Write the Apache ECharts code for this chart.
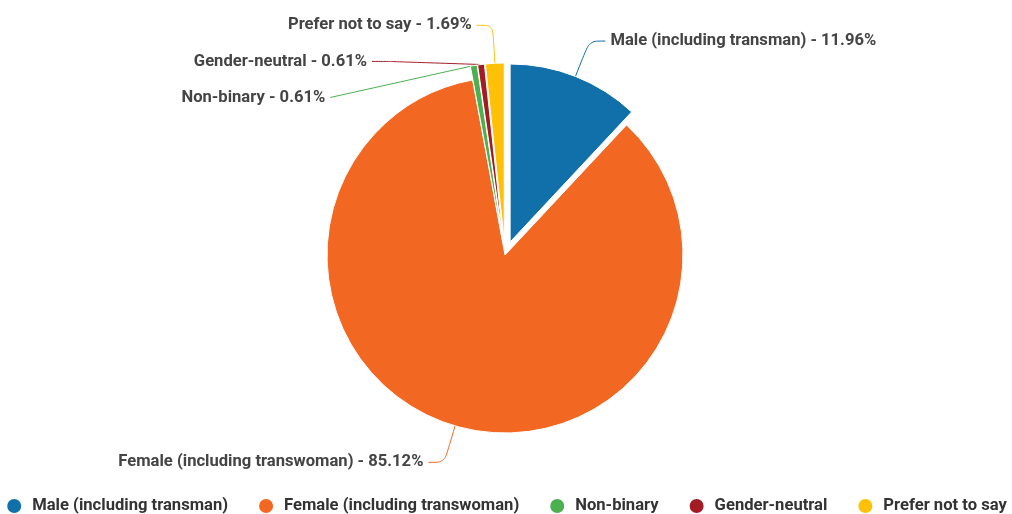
<!DOCTYPE html>
<html>
<head>
<meta charset="utf-8">
<title>Gender</title>
<style type="text/css">
    *{ margin:0; padding:0; }
    html,body{ width:100%; height:100%; background:#fff; }
    #main{ width:1012px; height:514px; }
</style>
</head>
<body>
<div id="main"></div>
<script src="https://cdn.jsdelivr.net/npm/echarts@6/dist/echarts.min.js"></script>
<script type="text/javascript">
    // data
    var categories = ['Male (including transman)', 'Female (including transwoman)', 'Non-binary', 'Gender-neutral', 'Prefer not to say'];
    var shares = [11.96, 85.12, 0.61, 0.61, 1.69];
    var colors = ['#1170aa', '#f26722', '#4caf50', '#a31c24', '#ffc107'];
    var pulledOut = [true, false, true, true, true];

    var myChart = echarts.init(document.getElementById('main'));

    var pieData = categories.map(function (name, i) {
        return { name: name, value: shares[i], selected: pulledOut[i] };
    });

    var option = {
        color: colors,
        legend: {
            bottom: -1,
            left: 'center',
            width: 1012,
            padding: 0,
            icon: 'circle',
            itemWidth: 16,
            itemHeight: 16,
            itemGap: 29,
            textStyle: {
                color: '#333', fontSize: 16.6, fontWeight: 'bold', fontFamily: 'Roboto',
                padding: [0, 0, 0, 5]
            },
            data: categories
        },
        series: [{
            type: 'pie',
            center: [505, 255],
            radius: 178,
            startAngle: 90,
            selectedMode: 'multiple',
            selectedOffset: 14,
            avoidLabelOverlap: true,
            itemStyle: { borderColor: '#fff', borderWidth: 1 },
            label: {
                formatter: '{b} - {c}%',
                color: '#444',
                fontSize: 16.6,
                fontWeight: 'bold',
                fontFamily: 'Roboto',
                lineHeight: 34
            },
            labelLine: { length: 38, length2: 16, smooth: true },
            emphasis: { scale: false },
            data: pieData
        }]
    };
    myChart.setOption(option);
</script>
</body>
</html>
